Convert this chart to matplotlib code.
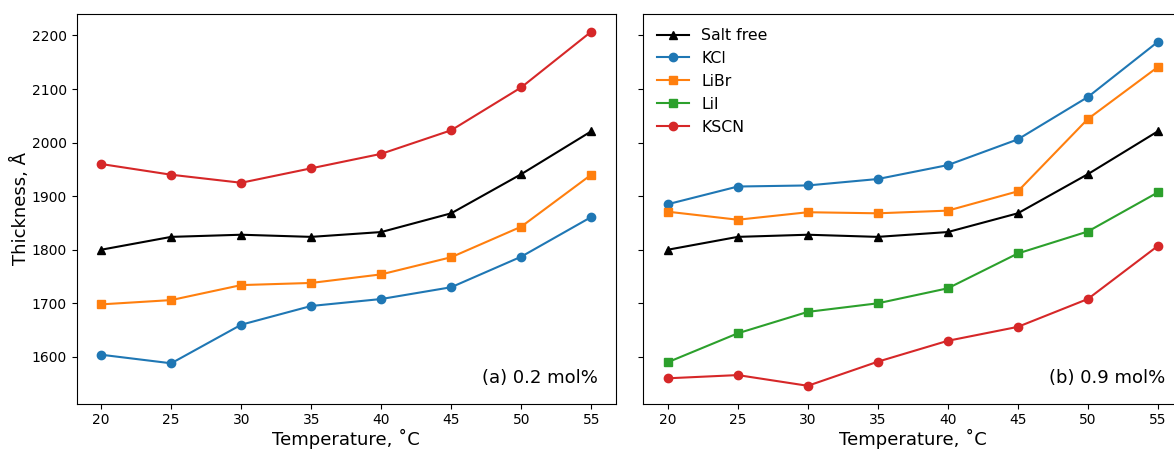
import matplotlib.pyplot as plt

temps = [20, 25, 30, 35, 40, 45, 50, 55]

# 0.2 mol% salt
salt_free = [1800, 1824, 1828, 1824, 1833, 1868, 1941, 2021]
kcl_02 = [1604, 1588, 1660, 1695, 1708, 1730, 1787, 1861]
libr_02 = [1698, 1706, 1734, 1738, 1754, 1786, 1843, 1940]
kscn_02 = [1960, 1940, 1925, 1952, 1979, 2023, 2103, 2207]

# 0.9 mol% salt
kcl_09 = [1885, 1918, 1920, 1932, 1958, 2006, 2085, 2188]
libr_09 = [1871, 1856, 1870, 1868, 1873, 1909, 2044, 2141]
lii_09 = [1590, 1644, 1684, 1700, 1728, 1793, 1834, 1907]
kscn_09 = [1560, 1566, 1546, 1591, 1630, 1656, 1708, 1807]

fig, (ax1, ax2) = plt.subplots(1, 2, sharey=True, figsize=(11.74, 4.5), dpi=100)
W, H = 1174, 450
# second panel runs slightly past the right edge of the canvas
ax1.set_position([76.7 / W, 1 - 403.5 / H, 539 / W, 389.5 / H])
ax2.set_position([643.3 / W, 1 - 403.5 / H, 539 / W, 389.5 / H])

ax1.plot(temps, salt_free, "k^-", label="Salt free")
ax1.plot(temps, kcl_02, "o-", color="tab:blue", label="KCl")
ax1.plot(temps, libr_02, "s-", color="tab:orange", label="LiBr")
ax1.plot(temps, kscn_02, "o-", color="tab:red", label="KSCN")

ax2.plot(temps, salt_free, "k^-", label="Salt free")
ax2.plot(temps, kcl_09, "o-", color="tab:blue", label="KCl")
ax2.plot(temps, libr_09, "s-", color="tab:orange", label="LiBr")
ax2.plot(temps, lii_09, "s-", color="tab:green", label="LiI")
ax2.plot(temps, kscn_09, "o-", color="tab:red", label="KSCN")

ax1.set_ylabel("Thickness, Å", fontsize=13, labelpad=1.5)
for ax in (ax1, ax2):
    ax.set_xlabel("Temperature, ˚C", fontsize=13, labelpad=1)
    ax.set_xticks(temps)
ax1.set_yticks([1600, 1700, 1800, 1900, 2000, 2100, 2200])

ax1.text(0.967, 0.043, "(a) 0.2 mol%", transform=ax1.transAxes, ha="right", va="bottom", fontsize=13)
ax2.text(0.968, 0.043, "(b) 0.9 mol%", transform=ax2.transAxes, ha="right", va="bottom", fontsize=13)

ax2.legend(loc="upper left", frameon=False, fontsize=11.3, labelspacing=0.5)

plt.savefig("out.png")
